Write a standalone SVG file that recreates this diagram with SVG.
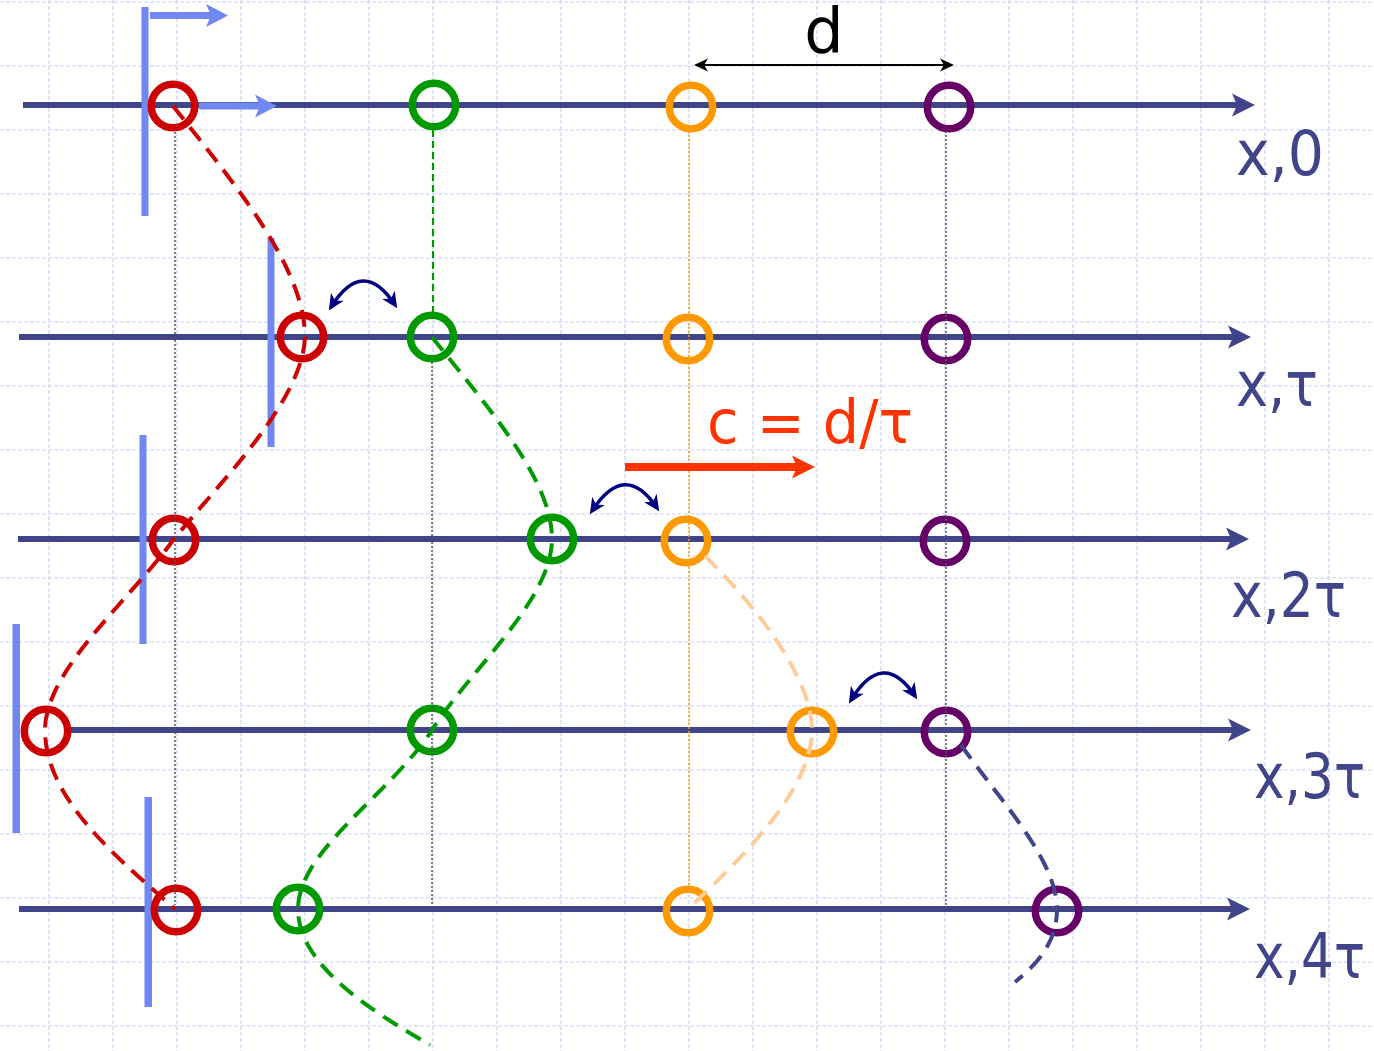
<svg xmlns="http://www.w3.org/2000/svg" width="1374" height="1051" viewBox="0 0 1374 1051">
<style>
.grid line{stroke:#c8d4f7;stroke-width:1.2;stroke-dasharray:4 2}
.axis{stroke:#404488;stroke-width:6;fill:none;marker-end:url(#ahAxis)}
.bar{fill:#7088f2}
.node circle{fill:none;stroke-width:7.5}
.red{stroke:#cc0000}.green{stroke:#009900}.orange{stroke:#ff9900}.purple{stroke:#660066}
.dot{stroke:#555;stroke-width:1.5;stroke-dasharray:2 2;fill:none}
.wave{fill:none;stroke-width:4;stroke-dasharray:17 10}
.swap{fill:none;stroke:#000080;stroke-width:3.5;marker-start:url(#ahSwap);marker-end:url(#ahSwap)}
.lbl{font-family:"DejaVu Sans","Liberation Sans",sans-serif;font-size:62px;fill:#404488}
</style>
<defs>
<marker id="ahAxis" markerUnits="userSpaceOnUse" markerWidth="24" markerHeight="24" refX="8" refY="11.5" orient="auto" overflow="visible"><path d="M0,0 L23,11.5 L0,23 L5,11.5 Z" fill="#404488"/></marker>
<marker id="ahBlue" markerUnits="userSpaceOnUse" markerWidth="24" markerHeight="24" refX="8" refY="11.5" orient="auto" overflow="visible"><path d="M0,0 L22,11.5 L0,23 L5,11.5 Z" fill="#7088f2"/></marker>
<marker id="ahRed" markerUnits="userSpaceOnUse" markerWidth="24" markerHeight="24" refX="8" refY="11.5" orient="auto" overflow="visible"><path d="M0,0 L23,11.5 L0,23 L5,11.5 Z" fill="#ff3300"/></marker>
<marker id="ahSwap" markerUnits="userSpaceOnUse" markerWidth="18" markerHeight="16" refX="12" refY="7.5" orient="auto-start-reverse" overflow="visible"><path d="M0,0 L16,7.5 L0,15 L4.5,7.5 Z" fill="#000080"/></marker>
<marker id="ahD" markerUnits="userSpaceOnUse" markerWidth="16" markerHeight="14" refX="12" refY="6.5" orient="auto-start-reverse" overflow="visible"><path d="M0,0 L14,6.5 L0,13 L4,6.5 Z" fill="#000"/></marker>
</defs>
<rect width="1374" height="1051" fill="#fff"/>
<g class="grid">
<line x1="49" y1="0" x2="49" y2="1051"/><line x1="113" y1="0" x2="113" y2="1051"/><line x1="177" y1="0" x2="177" y2="1051"/><line x1="241" y1="0" x2="241" y2="1051"/><line x1="305" y1="0" x2="305" y2="1051"/><line x1="369" y1="0" x2="369" y2="1051"/><line x1="433" y1="0" x2="433" y2="1051"/><line x1="497" y1="0" x2="497" y2="1051"/><line x1="561" y1="0" x2="561" y2="1051"/><line x1="625" y1="0" x2="625" y2="1051"/><line x1="689" y1="0" x2="689" y2="1051"/><line x1="753" y1="0" x2="753" y2="1051"/><line x1="817" y1="0" x2="817" y2="1051"/><line x1="881" y1="0" x2="881" y2="1051"/><line x1="945" y1="0" x2="945" y2="1051"/><line x1="1009" y1="0" x2="1009" y2="1051"/><line x1="1073" y1="0" x2="1073" y2="1051"/><line x1="1137" y1="0" x2="1137" y2="1051"/><line x1="1201" y1="0" x2="1201" y2="1051"/><line x1="1265" y1="0" x2="1265" y2="1051"/><line x1="1329" y1="0" x2="1329" y2="1051"/>
<line x1="0" y1="2" x2="1374" y2="2"/><line x1="0" y1="66" x2="1374" y2="66"/><line x1="0" y1="130" x2="1374" y2="130"/><line x1="0" y1="194" x2="1374" y2="194"/><line x1="0" y1="258" x2="1374" y2="258"/><line x1="0" y1="322" x2="1374" y2="322"/><line x1="0" y1="386" x2="1374" y2="386"/><line x1="0" y1="450" x2="1374" y2="450"/><line x1="0" y1="514" x2="1374" y2="514"/><line x1="0" y1="578" x2="1374" y2="578"/><line x1="0" y1="642" x2="1374" y2="642"/><line x1="0" y1="706" x2="1374" y2="706"/><line x1="0" y1="770" x2="1374" y2="770"/><line x1="0" y1="834" x2="1374" y2="834"/><line x1="0" y1="898" x2="1374" y2="898"/><line x1="0" y1="962" x2="1374" y2="962"/><line x1="0" y1="1026" x2="1374" y2="1026"/>
</g>
<g id="axes">
<line class="axis" x1="23" y1="105" x2="1240" y2="105"/>
<line class="axis" x1="19" y1="337" x2="1236" y2="337"/>
<line class="axis" x1="18" y1="539" x2="1234" y2="539"/>
<line class="axis" x1="69" y1="730" x2="1236" y2="730"/>
<line class="axis" x1="19" y1="909" x2="1235" y2="909"/>
</g>
<g id="wavefronts">
<rect class="bar" x="141.5" y="7" width="7" height="209"/>
<rect class="bar" x="267.5" y="238" width="7" height="209"/>
<rect class="bar" x="139.5" y="435" width="7" height="209"/>
<rect class="bar" x="12.5" y="624" width="7.5" height="209"/>
<rect class="bar" x="144.5" y="797" width="7.5" height="210"/>
</g>
<g id="nodes">
<g id="r0" class="node"><circle class="red" cx="173" cy="106" r="21.7"/></g>
<g id="g0" class="node"><circle class="green" cx="434" cy="105" r="21.7"/></g>
<g id="o0" class="node"><circle class="orange" cx="691" cy="107" r="21.7"/></g>
<g id="p0" class="node"><circle class="purple" cx="949" cy="107" r="21.7"/></g>
<g id="r1" class="node"><circle class="red" cx="302" cy="337" r="21.7"/></g>
<g id="g1" class="node"><circle class="green" cx="432" cy="337" r="21.7"/></g>
<g id="o1" class="node"><circle class="orange" cx="688" cy="339" r="21.7"/></g>
<g id="p1" class="node"><circle class="purple" cx="946" cy="339" r="21.7"/></g>
<g id="r2" class="node"><circle class="red" cx="174" cy="540" r="21.7"/></g>
<g id="g2" class="node"><circle class="green" cx="552" cy="539" r="21.7"/></g>
<g id="o2" class="node"><circle class="orange" cx="686" cy="541" r="21.7"/></g>
<g id="p2" class="node"><circle class="purple" cx="945" cy="541" r="21.7"/></g>
<g id="r3" class="node"><circle class="red" cx="46" cy="731" r="21.7"/></g>
<g id="g3" class="node"><circle class="green" cx="432" cy="730" r="21.7"/></g>
<g id="o3" class="node"><circle class="orange" cx="812" cy="732" r="21.7"/></g>
<g id="p3" class="node"><circle class="purple" cx="946" cy="732" r="21.7"/></g>
<g id="r4" class="node"><circle class="red" cx="176" cy="910" r="21.7"/></g>
<g id="g4" class="node"><circle class="green" cx="298" cy="909" r="21.7"/></g>
<g id="o4" class="node"><circle class="orange" cx="688" cy="911" r="21.7"/></g>
<g id="p4" class="node"><circle class="purple" cx="1057" cy="911" r="21.7"/></g>
</g>
<g id="connectors">
<line class="dot" x1="175" y1="132" x2="175" y2="905"/>
<line class="dot" x1="432" y1="362" x2="432" y2="905"/>
<line class="dot" x1="946" y1="131" x2="946" y2="905"/>
<line x1="689" y1="131" x2="689" y2="886" stroke="#ff9900" stroke-width="1.5" stroke-dasharray="2 2"/>
<line x1="433" y1="130" x2="433" y2="312" stroke="#009900" stroke-width="2.2" stroke-dasharray="7 4"/>
<path class="wave" stroke="#cc0000" d="M173,106 C240,190 305,270 305,337 C303,400 222,480 174,539 C130,600 45,670 45,730 C45,800 120,860 175,909"/>
<path class="wave" stroke="#009900" d="M432,337 C490,410 552,480 552,539 C552,600 470,670 432,730 C390,795 298,850 298,909 C298,965 370,1010 430,1045"/>
<path class="wave" stroke="#ffcc99" d="M705,556 C760,610 812,680 812,730 C812,790 740,860 688,909"/>
<path class="wave" stroke="#404488" d="M961,745 C1000,800 1057,860 1057,909 C1057,940 1040,962 1015,982"/>
<path class="swap" d="M331,307 Q363,256 395,305"/>
<path class="swap" d="M592,511 Q625,460 657,508"/>
<path class="swap" d="M851,700 Q883,648 915,696"/>
<line x1="696" y1="65" x2="952" y2="65" stroke="#000" stroke-width="2" marker-start="url(#ahD)" marker-end="url(#ahD)"/>
<line x1="150" y1="15.5" x2="214" y2="15.5" stroke="#7088f2" stroke-width="7" marker-end="url(#ahBlue)"/>
<line x1="199" y1="106" x2="263" y2="106" stroke="#7088f2" stroke-width="7" marker-end="url(#ahBlue)"/>
<line x1="625" y1="467" x2="800" y2="467" stroke="#ff3300" stroke-width="8" marker-end="url(#ahRed)"/>
</g>
<g id="labels">
<text x="824" y="52" text-anchor="middle" font-family="DejaVu Sans, sans-serif" font-size="62" fill="#000">d</text>
<text x="707" y="443" font-family="DejaVu Sans, sans-serif" font-size="60" fill="#ff3300" textLength="206" lengthAdjust="spacingAndGlyphs">c = d/τ</text>
<text class="lbl" x="1236" y="175" textLength="88" lengthAdjust="spacingAndGlyphs">x,0</text>
<text class="lbl" x="1236" y="406" textLength="82" lengthAdjust="spacingAndGlyphs">x,τ</text>
<text class="lbl" x="1231" y="617" textLength="115" lengthAdjust="spacingAndGlyphs">x,2τ</text>
<text class="lbl" x="1254" y="798" textLength="111" lengthAdjust="spacingAndGlyphs">x,3τ</text>
<text class="lbl" x="1254" y="978" textLength="111" lengthAdjust="spacingAndGlyphs">x,4τ</text>
</g>
</svg>
